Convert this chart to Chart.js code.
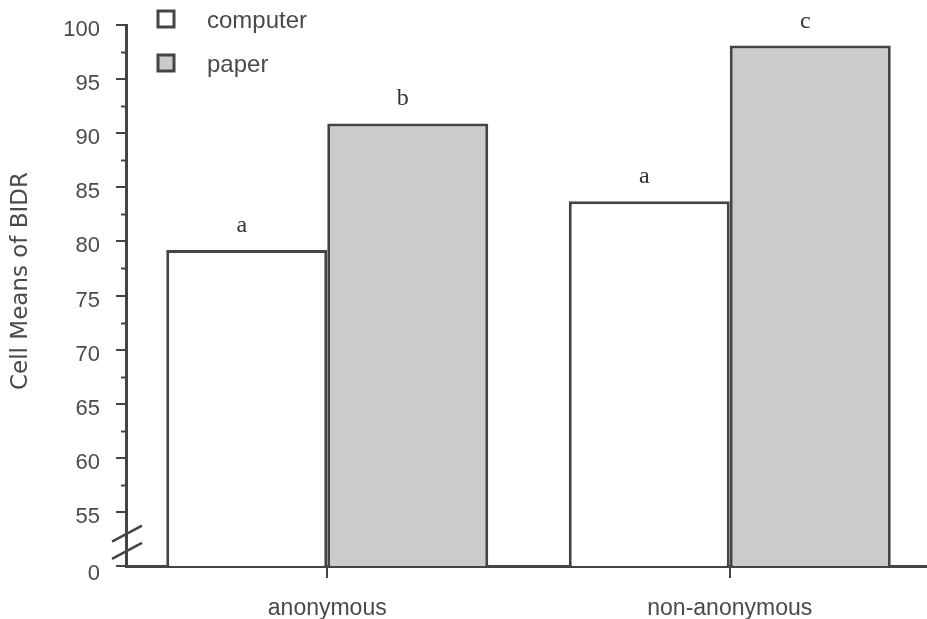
<!DOCTYPE html>
<html>
<head>
<meta charset="utf-8">
<script src="https://cdn.jsdelivr.net/npm/chart.js@4.4.0/dist/chart.umd.min.js"></script>
<style>
html,body{margin:0;padding:0;background:#fff;overflow:hidden;}
#wrap{width:931px;height:619px;position:relative;}
</style>
</head>
<body>
<div id="wrap"><canvas id="c"></canvas></div>
<script>
const categories = ['anonymous', 'non-anonymous'];
const seriesNames = ['computer', 'paper'];
const computerValues = [79.2, 83.7];
const paperValues = [90.9, 98.1];
const computerLetters = ['a', 'a'];
const paperLetters = ['b', 'c'];
const yTicks = [50, 55, 60, 65, 70, 75, 80, 85, 90, 95, 100];
const yTickLabels = ['0', '55', '60', '65', '70', '75', '80', '85', '90', '95', '100'];
const minorTicks = [57.5, 62.5, 67.5, 72.5, 77.5, 82.5, 87.5, 92.5, 97.5];
const yTitle = 'Cell Means of BIDR';

const INK = '#444444';
const TXT = '#4a4a4a';
const fills = ['#ffffff', '#cbcbcb'];
const letters = [computerLetters, paperLetters];
const SANS = '"Liberation Sans", Arial, Helvetica, sans-serif';

const decor = {
  id: 'decor',
  afterDraw(chart) {
    const ctx = chart.ctx;
    const y = chart.scales.y;
    const x = chart.scales.x;
    const left = x.left;
    ctx.save();
    // y tick labels
    ctx.fillStyle = TXT;
    ctx.font = '22px ' + SANS;
    ctx.textAlign = 'right';
    ctx.textBaseline = 'middle';
    yTicks.forEach((v, i) => {
      ctx.fillText(yTickLabels[i], 100, y.getPixelForValue(v) + (v === 50 ? 8 : 5));
    });
    // y title
    ctx.save();
    ctx.translate(21, 281);
    ctx.rotate(-Math.PI / 2);
    ctx.textAlign = 'center';
    ctx.textBaseline = 'middle';
    ctx.font = '23px "DejaVu Sans", sans-serif';
    ctx.fillText(yTitle, 0, 0);
    ctx.restore();
    // minor ticks
    ctx.strokeStyle = INK;
    ctx.lineWidth = 2;
    minorTicks.forEach(v => {
      const py = Math.round(y.getPixelForValue(v)) + 0.5;
      ctx.beginPath();
      ctx.moveTo(left - 5, py);
      ctx.lineTo(left, py);
      ctx.stroke();
    });
    // axis break marks
    const yb1 = y.getPixelForValue(53);
    const yb2 = y.getPixelForValue(51.4);
    ctx.lineWidth = 2.5;
    [yb1, yb2].forEach(py => {
      ctx.beginPath();
      ctx.moveTo(left - 14, py + 8);
      ctx.lineTo(left + 16, py - 8);
      ctx.stroke();
    });
    // letters above bars
    ctx.fillStyle = '#333';
    ctx.font = '24px "Liberation Serif", "Times New Roman", serif';
    ctx.textAlign = 'center';
    ctx.textBaseline = 'alphabetic';
    chart.data.datasets.forEach((ds, di) => {
      const meta = chart.getDatasetMeta(di);
      meta.data.forEach((bar, i) => {
        ctx.fillText(letters[di][i], bar.x - 5, bar.y - 18);
      });
    });
    // legend
    ctx.font = '24px ' + SANS;
    ctx.textAlign = 'left';
    ctx.textBaseline = 'alphabetic';
    const lx = 158, ly = [11, 55], lb = [28, 72];
    chart.data.datasets.forEach((ds, di) => {
      ctx.fillStyle = ds.backgroundColor;
      ctx.fillRect(lx, ly[di], 16, 16);
      ctx.strokeStyle = INK;
      ctx.lineWidth = 3;
      ctx.strokeRect(lx, ly[di], 16, 16);
      ctx.fillStyle = TXT;
      ctx.fillText(ds.label, 207, lb[di]);
    });
    ctx.restore();
  }
};

new Chart(document.getElementById('c'), {
  type: 'bar',
  data: {
    labels: categories,
    datasets: [
      { label: seriesNames[0], data: computerValues, backgroundColor: fills[0], borderColor: INK, borderWidth: 3, borderSkipped: false },
      { label: seriesNames[1], data: paperValues, backgroundColor: fills[1], borderColor: INK, borderWidth: 3, borderSkipped: false }
    ]
  },
  options: {
    responsive: true,
    maintainAspectRatio: false,
    animation: false,
    layout: { padding: { top: 25, right: 0, left: 0, bottom: 0 } },
    datasets: { bar: { categoryPercentage: 0.8, barPercentage: 1.0 } },
    plugins: { legend: { display: false }, tooltip: { enabled: false } },
    scales: {
      x: {
        offset: true,
        grid: { offset: false, drawOnChartArea: false, drawTicks: true, tickLength: 12, color: INK, lineWidth: 2 },
        border: { display: true, color: INK, width: 3 },
        ticks: { color: TXT, font: { family: SANS, size: 23 }, padding: 17 },
        afterFit(s) { s.height = 53; }
      },
      y: {
        min: 50, max: 100,
        afterBuildTicks(s) { s.ticks = yTicks.map(v => ({ value: v })); },
        grid: { drawOnChartArea: false, drawTicks: true, tickLength: 10, color: INK, lineWidth: 2 },
        border: { display: true, color: INK, width: 3 },
        ticks: { display: false },
        afterFit(s) { s.width = 126; }
      }
    }
  },
  plugins: [decor]
});
</script>
</body>
</html>
